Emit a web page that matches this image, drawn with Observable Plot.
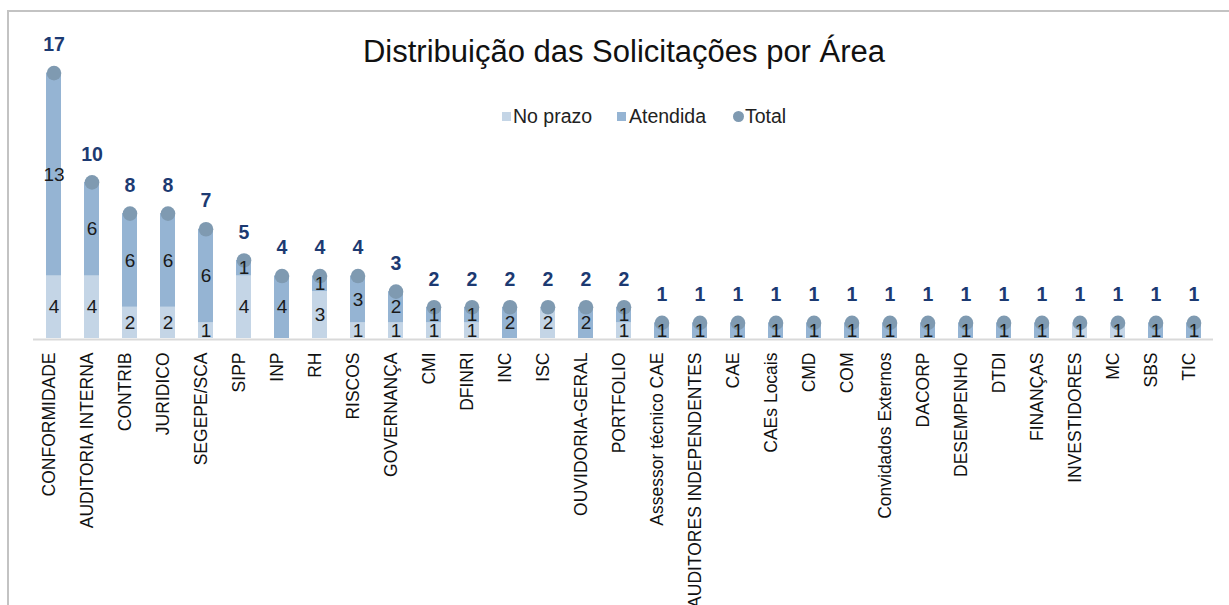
<!DOCTYPE html>
<html><head><meta charset="utf-8">
<script src="https://cdn.jsdelivr.net/npm/d3@7"></script>
<script src="https://cdn.jsdelivr.net/npm/@observablehq/plot@0.6"></script>
<style>
body{margin:0;background:#fff;}
#wrap{position:relative;width:1229px;height:605px;overflow:hidden;font-family:"Liberation Sans",Arial,sans-serif;}
#frame{position:absolute;left:7px;top:10px;width:1260px;height:640px;border-left:2px solid #c3c3c3;border-top:2px solid #c3c3c3;pointer-events:none;}
#chart{position:absolute;left:0;top:0;}
#title{position:absolute;left:0;width:1248px;top:35px;text-align:center;font-size:31px;line-height:34px;color:#111;}
.lg{position:absolute;top:105px;font-family:"Liberation Sans",Arial,sans-serif;font-size:19.5px;line-height:22px;color:#222;white-space:nowrap;}
.sw{position:absolute;}
</style>
</head><body>
<div id="wrap">
  <div id="chart"></div>
  <div id="frame"></div>
  <div id="title">Distribuição das Solicitações por Área</div>
  <div id="legend"></div>
</div>
<script>
const areas = ["CONFORMIDADE","AUDITORIA INTERNA","CONTRIB","JURIDICO","SEGEPE/SCA","SIPP","INP","RH","RISCOS","GOVERNANÇA","CMI","DFINRI","INC","ISC","OUVIDORIA-GERAL","PORTFOLIO","Assessor técnico CAE","AUDITORES INDEPENDENTES","CAE","CAEs Locais","CMD","COM","Convidados Externos","DACORP","DESEMPENHO","DTDI","FINANÇAS","INVESTIDORES","MC","SBS","TIC"];
const noPrazo  = [4,4,2,2,1,4,0,3,1,1,1,1,0,2,0,1,0,0,0,0,0,0,0,0,0,0,0,1,1,0,0];
const atendida = [13,6,6,6,6,1,4,1,3,2,1,1,2,0,2,1,1,1,1,1,1,1,1,1,1,1,1,0,0,1,1];
const totals   = [17,10,8,8,7,5,4,4,4,3,2,2,2,2,2,2,1,1,1,1,1,1,1,1,1,1,1,1,1,1,1];
const seriesNames = ["No prazo","Atendida","Total"];

const cLight = "#c4d5e6", cDark = "#95b4d3", cDot = "#7f9ab1";

const rows = [];
areas.forEach((a,i)=>{
  rows.push({area:a, status:seriesNames[0], value:noPrazo[i]});
  rows.push({area:a, status:seriesNames[1], value:atendida[i]});
});
const totRows = areas.map((a,i)=>({area:a, total:totals[i]}));
const order = [seriesNames[0], seriesNames[1]];
const font = "'Liberation Sans',Arial,sans-serif";

const chart = Plot.plot({
  width:1229, height:605,
  marginLeft:37, marginRight:19, marginTop:57, marginBottom:267,
  style:{fontFamily:font, background:"transparent", overflow:"visible"},
  x:{domain:areas, paddingInner:0.6, paddingOuter:0.2},
  y:{domain:[0,18], axis:null},
  color:{domain:order, range:[cLight,cDark]},
  marks:[
    Plot.ruleY([0], {stroke:"#d9d9d9", strokeWidth:2, dy:1, insetLeft:-4, insetRight:-3}),
    Plot.barY(rows, {x:"area", y:"value", fill:"status", order}),
    Plot.dot(totRows, {x:"area", y:"total", r:7.3, fill:cDot}),
    Plot.text(rows.filter(d=>d.value>0), Plot.stackY({x:"area", y:"value", z:"status", order, text:"value", fontSize:19, fontFamily:font, fill:"#1a1a1a"})),
    Plot.text(totRows, {x:"area", y:"total", text:"total", dy:-28, fontSize:19.5, fontWeight:"bold", fontFamily:font, fill:"#1c3a72"}),
    Plot.axisX({tickRotate:-90, tickSize:0, tickPadding:14, fontSize:17.5, color:"#111", label:null, dx:-5})
  ]
});
document.getElementById("chart").appendChild(chart);

const legend = document.getElementById("legend");
const items = [
  {name:seriesNames[0], color:cLight, shape:"sq", x:502, tx:513},
  {name:seriesNames[1], color:cDark, shape:"sq", x:617, tx:629},
  {name:seriesNames[2], color:cDot, shape:"ci", x:733, tx:745}
];
items.forEach(it=>{
  const s = document.createElement("div");
  s.className="sw";
  const sz = it.shape==="sq"?9:11;
  s.style.cssText = `left:${it.x}px;top:${116-sz/2}px;width:${sz}px;height:${sz}px;background:${it.color};border-radius:${it.shape==="ci"?"50%":"0"}`;
  legend.appendChild(s);
  const t = document.createElement("div");
  t.className="lg"; t.style.left = it.tx+"px"; t.textContent = it.name;
  legend.appendChild(t);
});
</script>
</body></html>
